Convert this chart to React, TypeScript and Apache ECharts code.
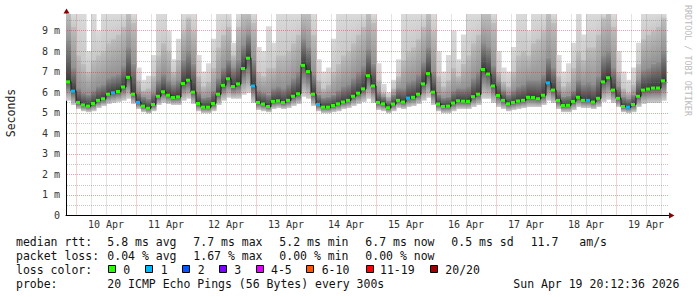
import React, { useEffect, useRef } from 'react';
import * as echarts from 'echarts';

// ---- time layout: hours relative to 10 Apr 00:00, one sample every 2 h ----
const STEP_HOURS = 2;
const START_HOUR = -4;
const X_MIN = -4;
const X_MAX = 237.2;
const Y_MAX = 9.8;

const dayLabels = ['10 Apr', '11 Apr', '12 Apr', '13 Apr', '14 Apr', '15 Apr', '16 Apr', '17 Apr', '18 Apr', '19 Apr'];
const yTickLabels = ['0', '1 m', '2 m', '3 m', '4 m', '5 m', '6 m', '7 m', '8 m', '9 m'];

// median rtt (ms) per 2-hour step
const medianRtt = [
  6.5, 6.05, 5.5, 5.38, 5.32, 5.45, 5.6, 5.68, 5.9, 5.97,
  6.03, 6.25, 6.72, 5.9, 5.5, 5.32, 5.22, 5.4, 5.8, 6.02,
  5.85, 5.74, 5.77, 6.42, 6.58, 6.0, 5.45, 5.27, 5.27, 5.45,
  5.9, 6.33, 6.65, 6.27, 6.4, 7.15, 7.65, 6.3, 5.5, 5.42,
  5.3, 5.55, 5.58, 5.5, 5.6, 5.8, 5.92, 7.3, 7.0, 5.9,
  5.4, 5.27, 5.27, 5.35, 5.43, 5.52, 5.6, 5.8, 5.95, 6.16,
  6.8, 6.3, 5.5, 5.43, 5.24, 5.42, 5.6, 5.52, 5.71, 5.75,
  5.9, 6.4, 6.9, 6.0, 5.42, 5.3, 5.32, 5.47, 5.58, 5.56,
  5.55, 5.78, 5.9, 7.1, 6.88, 6.3, 5.84, 5.6, 5.43, 5.5,
  5.57, 5.6, 5.75, 5.74, 5.68, 5.85, 6.45, 6.1, 5.6, 5.35,
  5.36, 5.55, 5.75, 5.6, 5.6, 5.52, 5.7, 6.5, 6.7, 6.1,
  5.7, 5.3, 5.27, 5.4, 5.8, 6.1, 6.15, 6.2, 6.2, 6.55,
];

// lost pings (of 20) per step
const lossCount = [
  0, 1, 0, 0, 0, 0, 0, 0, 0, 1,
  0, 0, 0, 0, 1, 0, 0, 0, 0, 0,
  0, 0, 0, 0, 0, 0, 0, 0, 0, 0,
  0, 0, 0, 0, 0, 0, 0, 1, 0, 0,
  0, 0, 0, 0, 0, 0, 0, 0, 0, 0,
  1, 0, 0, 0, 0, 0, 0, 0, 0, 0,
  0, 0, 0, 0, 0, 0, 0, 0, 1, 0,
  0, 0, 0, 0, 0, 0, 0, 0, 0, 0,
  0, 0, 0, 0, 0, 0, 0, 0, 0, 0,
  0, 0, 0, 0, 0, 0, 1, 0, 0, 0,
  0, 0, 0, 0, 1, 0, 0, 0, 0, 0,
  0, 0, 1, 0, 0, 0, 0, 0, 0, 0,
];

// smoke: fastest ping
const smokeLow = [
  5.6, 5.4, 5.2, 5.1, 5.05, 5.1, 5.25, 5.35, 5.45, 5.5,
  5.55, 5.6, 5.7, 5.45, 5.2, 5.05, 4.98, 5.1, 5.4, 5.5,
  5.45, 5.4, 5.4, 5.6, 5.7, 5.45, 5.1, 5.0, 5.0, 5.1,
  5.4, 5.6, 5.75, 5.7, 5.7, 5.9, 6.0, 5.5, 5.15, 5.1,
  5.05, 5.2, 5.25, 5.2, 5.25, 5.35, 5.45, 5.8, 5.7, 5.35,
  5.1, 5.0, 5.0, 5.05, 5.1, 5.2, 5.25, 5.35, 5.45, 5.55,
  5.7, 5.5, 5.15, 5.1, 5.0, 5.1, 5.25, 5.2, 5.3, 5.35,
  5.45, 5.6, 5.75, 5.4, 5.1, 5.0, 5.0, 5.1, 5.2, 5.2,
  5.2, 5.3, 5.4, 5.7, 5.7, 5.5, 5.3, 5.2, 5.1, 5.15,
  5.2, 5.25, 5.3, 5.3, 5.3, 5.4, 5.6, 5.5, 5.2, 5.05,
  5.05, 5.15, 5.3, 5.25, 5.25, 5.2, 5.3, 5.55, 5.65, 5.5,
  5.3, 5.05, 5.0, 5.05, 5.3, 5.45, 5.5, 5.5, 5.5, 5.6,
];

// smoke: top of the dark band above the median
const smokeDark = [
  8.5, 7.2, 6.2, 6.0, 5.9, 6.1, 6.3, 6.4, 6.7, 6.8,
  6.9, 7.3, 8.2, 7.4, 6.0, 5.8, 5.7, 6.0, 6.6, 6.9,
  6.6, 6.4, 6.6, 7.6, 8.0, 7.4, 6.0, 5.75, 5.8, 6.1,
  6.7, 7.2, 7.6, 7.2, 7.6, 8.3, 8.8, 7.6, 6.1, 6.0,
  5.9, 6.2, 6.3, 6.2, 6.4, 6.7, 7.0, 8.6, 8.2, 6.9,
  5.9, 5.75, 5.8, 5.9, 6.1, 6.3, 6.4, 6.7, 7.0, 7.3,
  8.1, 7.4, 6.0, 5.8, 5.6, 5.9, 6.2, 6.2, 6.5, 6.6,
  6.9, 7.5, 8.2, 7.0, 5.9, 5.75, 5.8, 6.1, 6.2, 6.2,
  6.3, 6.7, 7.0, 8.4, 8.2, 7.3, 6.5, 6.1, 5.9, 6.1,
  6.3, 6.4, 6.6, 6.6, 6.6, 6.9, 7.7, 7.2, 6.1, 5.8,
  5.85, 6.1, 6.6, 6.4, 6.5, 6.4, 6.8, 7.8, 8.0, 7.2,
  6.3, 5.8, 5.7, 5.9, 6.6, 7.1, 7.2, 7.4, 7.5, 8.0,
];

// smoke: top of the mid-grey band
const smokeMid = [
  9.8, 9.2, 7.8, 7.4, 7.0, 7.6, 7.8, 8.0, 8.4, 8.6,
  8.8, 9.2, 9.8, 9.4, 6.6, 6.1, 6.2, 6.8, 7.8, 8.4,
  8.0, 7.0, 7.6, 9.0, 9.6, 9.0, 6.8, 6.3, 6.5, 7.2,
  8.2, 8.8, 9.2, 7.8, 9.2, 9.8, 9.8, 9.4, 7.0, 6.8,
  7.2, 7.2, 7.8, 7.8, 8.0, 8.4, 8.8, 9.8, 9.8, 8.8,
  6.6, 6.2, 6.4, 7.0, 7.4, 7.8, 8.0, 8.4, 8.8, 9.2,
  9.8, 9.4, 6.6, 6.0, 5.8, 6.2, 6.8, 7.6, 8.0, 8.2,
  8.6, 9.2, 9.8, 9.0, 6.8, 6.3, 6.6, 7.2, 6.8, 7.4,
  7.8, 8.4, 8.8, 9.8, 9.8, 9.4, 7.0, 6.5, 6.3, 7.0,
  7.8, 8.0, 7.8, 8.4, 8.6, 9.0, 9.8, 9.4, 6.8, 6.3,
  6.5, 7.2, 8.0, 7.6, 8.2, 8.2, 8.8, 9.6, 9.8, 9.2,
  7.0, 6.2, 6.0, 6.4, 7.4, 8.6, 8.8, 9.0, 9.2, 9.6,
];

// smoke: slowest ping (clipped at the top of the axis)
const smokeMax = [
  9.8, 9.8, 9.8, 9.8, 8.0, 9.8, 9.0, 9.8, 9.8, 9.8,
  9.8, 9.8, 9.8, 9.8, 7.2, 6.6, 6.8, 7.8, 9.8, 9.8,
  9.0, 7.6, 8.6, 9.8, 9.8, 9.8, 7.8, 7.0, 7.4, 8.6,
  9.8, 9.8, 9.8, 8.4, 9.8, 9.8, 9.8, 9.8, 8.2, 8.0,
  9.2, 8.4, 9.8, 9.8, 9.8, 9.8, 9.8, 9.8, 9.8, 9.8,
  7.6, 7.0, 7.2, 8.6, 9.8, 9.8, 9.8, 9.8, 9.8, 9.8,
  9.8, 9.8, 7.4, 6.4, 6.0, 6.6, 7.6, 9.8, 9.8, 9.8,
  9.8, 9.8, 9.8, 9.8, 8.0, 7.0, 7.8, 9.0, 7.6, 8.8,
  9.8, 9.8, 9.8, 9.8, 9.8, 9.8, 8.0, 7.2, 7.0, 8.2,
  9.8, 9.8, 9.0, 9.8, 9.8, 9.8, 9.8, 9.8, 7.8, 7.0,
  7.4, 8.4, 9.8, 8.8, 9.8, 9.8, 9.8, 9.8, 9.8, 9.8,
  8.0, 7.0, 6.6, 7.2, 8.4, 9.8, 9.8, 9.8, 9.8, 9.8,
];

const lossLegend = ['0', '1', '2', '3', '4-5', '6-10', '11-19', '20/20'];
const lossColors = ['#26ff00', '#00b8ff', '#0059ff', '#7e00ff', '#e000ff', '#ff5500', '#ff0000', '#a10000'];
const rttStats = ['5.8 ms avg', '7.7 ms max', '5.2 ms min', '6.7 ms now', '0.5 ms sd', '11.7', 'am/s'];
const lossStats = ['0.04 % avg', '1.67 % max', '0.00 % min', '0.00 % now'];
const probeText = '20 ICMP Echo Pings (56 Bytes) every 300s';
const stampText = 'Sun Apr 19 20:12:36 2026';

const MONO = '"DejaVu Sans Mono", monospace';
const MAJOR = 'rgba(190,40,40,0.42)';
const MINOR = 'rgba(120,120,120,0.42)';

function lossBucket(n: number): number {
  if (n <= 3) return n;
  if (n <= 5) return 4;
  if (n <= 10) return 5;
  if (n <= 19) return 6;
  return 7;
}

function grad(top: string, bottom: string) {
  return new echarts.graphic.LinearGradient(0, 0, 0, 1, [
    { offset: 0, color: top },
    { offset: 1, color: bottom },
  ]);
}

function buildOption() {
  const smokeData = medianRtt.map((m, i) => [
    START_HOUR + i * STEP_HOURS, smokeLow[i], m, smokeDark[i], smokeMid[i], smokeMax[i],
  ]);
  const lineData = medianRtt.map((m, i) => [START_HOUR + i * STEP_HOURS, m]);
  lineData.push([START_HOUR + medianRtt.length * STEP_HOURS, medianRtt[medianRtt.length - 1]]);
  const lossData = medianRtt.map((m, i) => [START_HOUR + i * STEP_HOURS, m, lossCount[i]]);

  const gridLines: number[][] = [];
  for (let h = 0; h <= 234; h += 6) gridLines.push([0, h]);
  for (let k = 1; k <= 19; k++) gridLines.push([1, k * 0.5]);

  const txt = (text: string, x: number, y: number, extra: any = {}) => ({
    type: 'text', x, y, silent: true, z: 10,
    style: { text, fontFamily: MONO, fontSize: 11.5, fill: '#111', align: 'left', verticalAlign: 'middle', ...extra },
  });

  const rttX = [107.3, 193.3, 279.3, 365.3, 451.3, 530.7, 579.3];
  const lossX = [107.3, 193.3, 279.3, 365.3];
  const boxX = [108.5, 145.5, 182.5, 219.5, 256.5, 306.5, 366.5, 430.5];
  const lblX = [123.3, 160.7, 197.7, 234.3, 271, 321.7, 380, 445.3];
  const L1 = 241.5, L2 = 255.5, L3 = 269.5, L4 = 283.5;

  const graphic: any[] = [
    txt('median rtt:', 16, L1),
    ...rttStats.map((s, i) => txt(s, rttX[i], L1)),
    txt('packet loss:', 16, L2),
    ...lossStats.map((s, i) => txt(s, lossX[i], L2)),
    txt('loss color:', 16, L3),
    ...lossLegend.map((s, i) => txt(s, lblX[i], L3)),
    ...lossColors.map((c, i) => ({
      type: 'rect', silent: true, z: 10,
      shape: { x: boxX[i], y: 265.5, width: 7, height: 7 },
      style: { fill: c, stroke: '#000', lineWidth: 1 },
    })),
    txt('probe:', 16, L4),
    txt(probeText, 107.3, L4),
    txt(stampText, 513.3, L4),
    {
      type: 'text', x: 11, y: 113, rotation: Math.PI / 2, silent: true, z: 10,
      style: { text: 'Seconds', fontFamily: MONO, fontSize: 11.5, fill: '#222', align: 'center', verticalAlign: 'middle' },
    },
    {
      type: 'text', x: 687.5, y: 5, rotation: -Math.PI / 2, silent: true, z: 10,
      style: { text: 'RRDTOOL / TOBI OETIKER', fontFamily: MONO, fontSize: 8.4, fill: '#bbbbbb', align: 'left', verticalAlign: 'middle' },
    },
    {
      type: 'polygon', silent: true, z: 10,
      shape: { points: [[63.5, 13.5], [69.5, 13.5], [66.5, 8.5]] },
      style: { fill: '#8b0000' },
    },
    {
      type: 'polygon', silent: true, z: 10,
      shape: { points: [[669, 212.5], [669, 218.5], [674.5, 215.5]] },
      style: { fill: '#8b0000' },
    },
  ];

  return {
    animation: false,
    backgroundColor: '#ffffff',
    grid: { left: 66, right: 28, top: 14, bottom: 81.5, containLabel: false },
    xAxis: {
      type: 'value', min: X_MIN, max: X_MAX, interval: 4,
      axisLine: { show: true, onZero: false, lineStyle: { color: '#000', width: 1 } },
      axisTick: { show: false },
      splitLine: { show: false },
      axisLabel: {
        margin: 4, fontFamily: MONO, fontSize: 10, color: '#333', hideOverlap: false,
        formatter: (v: number) => {
          const k = (v - 12) / 24;
          const r = Math.round(k);
          return Math.abs(k - r) < 1e-6 && r >= 0 && r < dayLabels.length ? dayLabels[r] : '';
        },
      },
    },
    yAxis: {
      type: 'value', min: 0, max: Y_MAX, interval: 1,
      axisLine: { show: true, onZero: false, lineStyle: { color: '#000', width: 1 } },
      axisTick: { show: false },
      splitLine: { show: false },
      axisLabel: {
        margin: 6, fontFamily: MONO, fontSize: 10, color: '#333',
        formatter: (v: number) => {
          const r = Math.round(v);
          return Math.abs(v - r) < 1e-6 && r < yTickLabels.length ? yTickLabels[r] : '';
        },
      },
    },
    series: [
      {
        type: 'custom', name: 'smoke', z: 1, clip: true, silent: true,
        data: smokeData,
        renderItem: (params: any, api: any) => {
          const t = api.value(0);
          const xa = api.coord([t, 0])[0];
          const xb = api.coord([t + STEP_HOURS, 0])[0];
          const ys = [1, 2, 3, 4, 5].map((k) => api.coord([t, Math.min(api.value(k), Y_MAX)])[1]);
          const bands: [number, number, string, string][] = [
            [ys[0], ys[1], '#5c5c5c', '#cfcfcf'],
            [ys[1], ys[2], '#8f8f8f', '#383838'],
            [ys[2], ys[3], '#bebebe', '#929292'],
            [ys[3], ys[4], '#dadada', '#c8c8c8'],
          ];
          const children = bands
            .filter((b) => b[0] - b[1] > 0.1)
            .map(([yb, yt, ct, cb]) => ({
              type: 'rect',
              shape: { x: xa, y: yt, width: xb - xa + 0.6, height: yb - yt + 0.5 },
              style: { fill: grad(ct, cb) },
            }));
          return { type: 'group', children };
        },
      },
      {
        type: 'custom', name: 'grid', z: 2, silent: true,
        data: gridLines,
        renderItem: (params: any, api: any) => {
          const kind = api.value(0);
          const v = api.value(1);
          if (kind === 0) {
            const p0 = api.coord([v, 0]);
            const p1 = api.coord([v, Y_MAX]);
            const x = Math.round(p0[0]) + 0.5;
            const major = Math.abs(v % 24) < 1e-6;
            return {
              type: 'line',
              shape: { x1: x, y1: p0[1] - 1, x2: x, y2: p1[1] },
              style: { stroke: major ? MAJOR : MINOR, lineWidth: 1, lineDash: [1, 1] },
            };
          }
          const q0 = api.coord([X_MIN, v]);
          const q1 = api.coord([X_MAX, v]);
          const y = Math.round(q0[1]) + 0.5;
          const major = Math.abs(v - Math.round(v)) < 1e-6;
          return {
            type: 'line',
            shape: { x1: q0[0] + 1, y1: y, x2: q1[0], y2: y },
            style: { stroke: major ? MAJOR : MINOR, lineWidth: 1, lineDash: [1, 1] },
          };
        },
      },
      {
        type: 'line', name: 'median', z: 3, step: 'end', silent: true,
        data: lineData, symbol: 'none',
        lineStyle: { color: '#1a1a1a', width: 1 },
      },
      {
        type: 'custom', name: 'loss', z: 4, silent: true,
        data: lossData,
        renderItem: (params: any, api: any) => {
          const t = api.value(0);
          const m = api.value(1);
          const lc = api.value(2);
          const p = api.coord([t, m]);
          const xb = api.coord([t + STEP_HOURS, m])[0];
          return {
            type: 'rect',
            shape: { x: p[0], y: p[1] - 1.5, width: xb - p[0] - 1, height: 3 },
            style: { fill: lossColors[lossBucket(lc)] },
          };
        },
      },
    ],
    graphic,
  };
}

export default function App() {
  const ref = useRef<HTMLDivElement>(null);
  useEffect(() => {
    if (!ref.current) return;
    const chart = echarts.init(ref.current, null, { renderer: 'svg' });
    chart.setOption(buildOption() as any);
    return () => chart.dispose();
  }, []);
  return (
    <div
      ref={ref}
      style={{ position: 'fixed', left: 0, top: 0, width: 697, height: 297, background: '#fff' }}
    />
  );
}
